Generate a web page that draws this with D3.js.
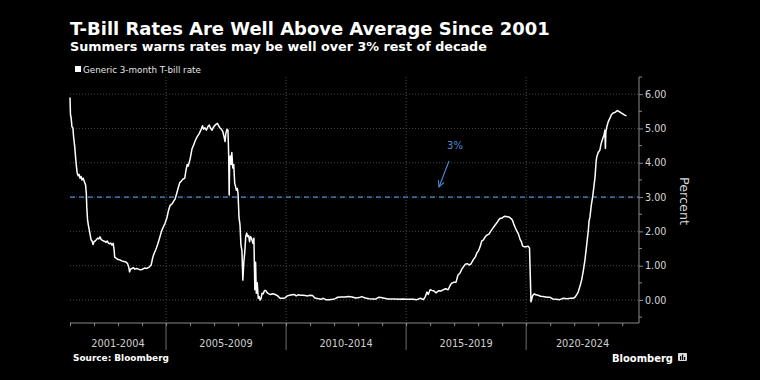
<!DOCTYPE html>
<html>
<head>
<meta charset="utf-8">
<script src="https://cdn.jsdelivr.net/npm/d3@7"></script>
<style>
  html, body { margin: 0; padding: 0; background: #000; }
  svg { display: block; }
</style>
</head>
<body>
<svg id="chart" width="760" height="380"></svg>
<script>
// ---- Data (decimal year, rate in percent) ----
const years = [
2001.00,2001.02,2001.05,2001.08,2001.12,2001.15,2001.20,2001.24,2001.27,2001.30,2001.34,2001.38,2001.42,2001.46,2001.50,2001.55,2001.60,2001.65,2001.68,2001.70,2001.73,2001.76,2001.80,2001.84,2001.88,2001.92,2001.96,
2002.00,2002.05,2002.10,2002.15,2002.20,2002.25,2002.30,2002.35,2002.40,2002.45,2002.50,2002.55,2002.60,2002.65,2002.70,2002.75,2002.80,2002.84,2002.86,2002.92,
2003.00,2003.08,2003.15,2003.25,2003.33,2003.40,2003.45,2003.48,2003.52,2003.58,2003.65,2003.70,2003.78,2003.85,2003.92,
2004.00,2004.10,2004.20,2004.30,2004.38,2004.45,2004.50,2004.58,2004.65,2004.72,2004.80,2004.88,2004.95,
2005.03,2005.10,2005.17,2005.25,2005.32,2005.38,2005.45,2005.52,2005.57,2005.62,2005.70,2005.78,2005.83,2005.88,2005.92,
2006.00,2006.08,2006.15,2006.22,2006.30,2006.38,2006.45,2006.52,2006.56,2006.62,2006.68,2006.74,2006.80,2006.86,2006.92,2006.96,
2007.02,2007.08,2007.14,2007.18,2007.24,2007.30,2007.36,2007.42,2007.46,2007.49,2007.54,2007.58,2007.61,2007.63,2007.65,2007.68,2007.71,2007.74,2007.78,2007.82,2007.86,2007.90,2007.93,2007.97,
2008.00,2008.04,2008.08,2008.12,2008.16,2008.20,2008.24,2008.28,2008.32,2008.36,2008.40,2008.44,2008.48,2008.52,2008.56,2008.62,2008.66,2008.70,2008.73,2008.76,2008.80,2008.84,2008.88,2008.92,2008.96,
2009.00,2009.05,2009.10,2009.15,2009.20,2009.28,2009.35,2009.45,2009.55,2009.65,2009.75,2009.85,2009.95,
2010.05,2010.15,2010.25,2010.35,2010.42,2010.50,2010.60,2010.70,2010.80,2010.90,
2011.00,2011.10,2011.20,2011.35,2011.45,2011.55,2011.65,2011.80,2011.95,
2012.05,2012.15,2012.30,2012.45,2012.60,2012.75,2012.90,
2013.05,2013.15,2013.30,2013.45,2013.60,2013.75,2013.85,2013.95,
2014.10,2014.25,2014.40,2014.55,2014.70,2014.85,
2015.00,2015.15,2015.30,2015.45,2015.60,2015.72,2015.80,2015.87,2015.92,
2016.00,2016.08,2016.15,2016.25,2016.35,2016.45,2016.55,2016.65,2016.75,2016.85,2016.92,
2017.00,2017.08,2017.16,2017.24,2017.32,2017.40,2017.46,2017.55,2017.62,2017.70,2017.80,2017.88,2017.95,
2018.02,2018.08,2018.15,2018.22,2018.30,2018.38,2018.45,2018.52,2018.60,2018.70,2018.78,2018.85,2018.92,2018.98,
2019.05,2019.12,2019.20,2019.28,2019.36,2019.42,2019.48,2019.55,2019.62,2019.68,2019.75,2019.80,2019.85,2019.92,
2020.00,2020.08,2020.14,2020.18,2020.20,2020.24,2020.28,2020.34,2020.40,2020.50,2020.60,2020.70,2020.80,2020.90,
2021.00,2021.10,2021.25,2021.40,2021.55,2021.70,2021.85,2021.95,
2022.03,2022.10,2022.17,2022.24,2022.31,2022.38,2022.45,2022.52,2022.59,2022.62,2022.66,2022.71,2022.77,2022.82,2022.87,2022.91,2022.94,
2023.00,2023.07,2023.12,2023.19,2023.24,2023.28,2023.30,2023.32,2023.36,2023.42,2023.49,2023.55,2023.62,2023.70,2023.80,2023.90,2023.97,
2024.04,2024.10,2024.18
];
const rates = [
5.90,5.40,5.30,5.05,5.02,4.75,4.45,4.10,3.88,3.70,3.62,3.66,3.55,3.60,3.50,3.55,3.45,3.35,3.10,2.70,2.35,2.20,2.05,1.90,1.75,1.72,1.62,
1.70,1.72,1.76,1.80,1.78,1.84,1.76,1.74,1.72,1.71,1.68,1.72,1.66,1.64,1.66,1.60,1.65,1.45,1.25,1.22,
1.18,1.17,1.14,1.12,1.11,1.06,0.95,0.82,0.90,0.92,0.94,0.90,0.92,0.90,0.88,
0.89,0.93,0.92,0.96,1.02,1.25,1.35,1.48,1.62,1.78,1.98,2.12,2.22,
2.38,2.60,2.76,2.80,2.88,2.95,3.12,3.30,3.42,3.45,3.52,3.55,3.78,3.95,3.90,
4.10,4.40,4.52,4.65,4.76,4.85,4.95,5.08,4.98,5.02,4.95,5.05,5.10,5.00,4.95,5.02,
5.08,5.12,5.15,5.10,5.02,4.98,4.92,4.75,4.62,4.85,4.98,4.95,4.20,3.06,4.05,4.20,3.95,4.30,3.85,3.95,3.40,3.30,3.20,3.25,
3.10,2.40,2.20,1.60,1.45,0.58,1.10,1.40,1.85,1.95,1.85,1.88,1.70,1.85,1.80,1.65,1.80,0.30,1.10,0.20,0.50,0.05,0.10,0.00,0.05,
0.20,0.18,0.28,0.28,0.22,0.18,0.16,0.18,0.16,0.12,0.05,0.05,0.06,
0.12,0.14,0.15,0.16,0.12,0.15,0.14,0.14,0.13,0.12,
0.14,0.13,0.06,0.04,0.02,0.05,0.01,0.01,0.02,
0.04,0.08,0.09,0.09,0.10,0.09,0.06,
0.07,0.10,0.06,0.04,0.03,0.03,0.08,0.07,
0.05,0.03,0.03,0.03,0.02,0.03,
0.02,0.02,0.02,0.01,0.05,0.01,0.10,0.23,0.16,
0.30,0.28,0.27,0.21,0.27,0.26,0.30,0.33,0.30,0.45,0.50,
0.52,0.52,0.73,0.78,0.90,0.98,1.04,1.06,1.02,1.05,1.18,1.25,1.38,
1.44,1.55,1.72,1.75,1.85,1.90,1.92,2.00,2.08,2.18,2.25,2.33,2.38,2.38,
2.42,2.44,2.43,2.42,2.38,2.34,2.22,2.10,2.00,1.92,1.76,1.70,1.58,1.55,
1.55,1.57,1.52,0.50,-0.05,0.05,0.14,0.18,0.15,0.14,0.11,0.10,0.09,0.08,
0.08,0.03,0.02,0.01,0.05,0.04,0.05,0.05,
0.08,0.15,0.24,0.40,0.58,0.85,1.17,1.60,2.04,2.30,2.43,2.75,3.01,3.30,3.59,4.00,4.17,
4.30,4.37,4.55,4.71,4.80,4.95,4.42,4.90,5.05,5.20,5.30,5.40,5.45,5.47,5.52,5.48,5.45,
5.42,5.39,5.37
];
const periodLabels = ["2001-2004","2005-2009","2010-2014","2015-2019","2020-2024"];
const periodStarts = [2001, 2005, 2010, 2015, 2020];
const yTicks = [0, 1, 2, 3, 4, 5, 6];
const refLevel = 3;
const refLabel = "3%";
const titleText = "T-Bill Rates Are Well Above Average Since 2001";
const subtitleText = "Summers warns rates may be well over 3% rest of decade";
const legendText = "Generic 3-month T-bill rate";
const sourceText = "Source: Bloomberg";

// ---- Layout ----
const svg = d3.select("#chart");
const W = 760, H = 380;
const pLeft = 70, pRight = 639, pTop = 77, pBottom = 323;
const xDomain = [2001, 2024.7];
const x = d3.scaleLinear().domain(xDomain).range([pLeft, pRight]);
const y = d3.scaleLinear().domain([-0.67, 6.5]).range([pBottom, pTop]);
const font = "'DejaVu Sans', Verdana, sans-serif";
const gridCol = "#5a5a5a";
const axisCol = "#8a8a8a";
const blue = "#4d8ad6";

// scale a text's font-size so it spans the given width
function fitWidth(sel, target) {
  const len = sel.node().getComputedTextLength();
  const fs = parseFloat(sel.attr("font-size"));
  if (len > 0) sel.attr("font-size", (fs * target / len).toFixed(2));
  return sel;
}

svg.append("rect").attr("width", W).attr("height", H).attr("fill", "#000");

// Title & subtitle
fitWidth(svg.append("text").attr("x", 70).attr("y", 35).text(titleText)
  .attr("fill", "#fff").attr("font-family", font).attr("font-weight", 700).attr("font-size", 17), 480);
fitWidth(svg.append("text").attr("x", 70).attr("y", 51).text(subtitleText)
  .attr("fill", "#fff").attr("font-family", font).attr("font-weight", 700).attr("font-size", 13), 417);

// Legend
svg.append("rect").attr("x", 75).attr("y", 66).attr("width", 6).attr("height", 6).attr("fill", "#fff");
fitWidth(svg.append("text").attr("x", 83).attr("y", 72.5).text(legendText)
  .attr("fill", "#e6e6e6").attr("font-family", font).attr("font-size", 8.5), 118);

// Horizontal grid
svg.append("g").selectAll("line").data(yTicks).join("line")
  .attr("x1", pLeft).attr("x2", pRight)
  .attr("y1", d => y(d)).attr("y2", d => y(d))
  .attr("stroke", gridCol).attr("stroke-width", 0.8).attr("stroke-dasharray", "1,2");

// Vertical grid at period separators
svg.append("g").selectAll("line").data(periodStarts.slice(1)).join("line")
  .attr("x1", d => x(d)).attr("x2", d => x(d))
  .attr("y1", pTop).attr("y2", pBottom)
  .attr("stroke", gridCol).attr("stroke-width", 0.8).attr("stroke-dasharray", "1,2");

// Reference line at 3%
svg.append("line")
  .attr("x1", pLeft).attr("x2", pRight)
  .attr("y1", y(refLevel)).attr("y2", y(refLevel))
  .attr("stroke", blue).attr("stroke-width", 1.3).attr("stroke-dasharray", "5,4");

// Data line
const pts = years.map((t, i) => [t, rates[i]]);
const line = d3.line().x(d => x(d[0])).y(d => y(d[1]));
svg.append("path").datum(pts).attr("d", line)
  .attr("fill", "none").attr("stroke", "#fff").attr("stroke-width", 1.5)
  .attr("stroke-linejoin", "round");

// Bottom axis with yearly minor ticks
const yearTicks = d3.range(2001, 2025);
const xAxis = d3.axisBottom(x).tickValues(yearTicks).tickSize(3).tickFormat("");
const gx = svg.append("g").attr("transform", `translate(0,${pBottom})`).call(xAxis);
gx.select(".domain").attr("stroke", axisCol).attr("stroke-width", 1.2).attr("d", `M${pLeft},0H${pRight}`);
gx.selectAll(".tick line").attr("stroke", axisCol);

// Period separators below axis
svg.append("g").selectAll("line").data(periodStarts.slice(1)).join("line")
  .attr("x1", d => x(d)).attr("x2", d => x(d))
  .attr("y1", pBottom).attr("y2", 350)
  .attr("stroke", axisCol).attr("stroke-width", 0.8);

// Period labels
const bounds = periodStarts.map((s, i) => [Math.max(s, xDomain[0]), i < periodStarts.length - 1 ? periodStarts[i + 1] : xDomain[1]]);
svg.append("g").selectAll("text").data(periodLabels).join("text")
  .attr("x", (d, i) => (x(bounds[i][0]) + x(bounds[i][1])) / 2)
  .attr("y", 347).attr("text-anchor", "middle").text(d => d)
  .attr("fill", "#d0d0d0").attr("font-family", font).attr("font-size", 9.8);

// Right axis
const yAxis = d3.axisRight(y).tickValues(yTicks).tickSize(4).tickFormat(d3.format(".2f"));
const gy = svg.append("g").attr("transform", `translate(${pRight},0)`).call(yAxis);
gy.select(".domain").attr("stroke", axisCol).attr("stroke-width", 1).attr("d", `M0,${pTop}V${pBottom}`);
gy.selectAll(".tick line").attr("stroke", axisCol);
gy.selectAll(".tick text").attr("fill", "#d8d8d8").attr("font-family", font).attr("font-size", 9.6).attr("x", 6);
const halfTicks = d3.range(-0.5, 6.6, 1);
svg.append("g").selectAll("line").data(halfTicks).join("line")
  .attr("x1", pRight).attr("x2", pRight + 3)
  .attr("y1", d => y(d)).attr("y2", d => y(d))
  .attr("stroke", axisCol);

fitWidth(svg.append("text").attr("transform", `translate(680,201) rotate(90)`)
  .attr("text-anchor", "middle").text("Percent")
  .attr("fill", "#d8d8d8").attr("font-family", font).attr("font-size", 12), 48);

// Annotation
svg.append("defs").append("marker").attr("id", "arr")
  .attr("viewBox", "0 0 10 10").attr("refX", 9).attr("refY", 5)
  .attr("markerWidth", 7).attr("markerHeight", 7).attr("orient", "auto")
  .append("path").attr("d", "M1,1L9,5L1,9").attr("fill", "none").attr("stroke", blue).attr("stroke-width", 1.4);
svg.append("text").attr("x", 455).attr("y", 149).attr("text-anchor", "middle").text(refLabel)
  .attr("fill", blue).attr("font-family", font).attr("font-size", 10);
svg.append("line").attr("x1", 449).attr("y1", 161).attr("x2", 439).attr("y2", 187)
  .attr("stroke", blue).attr("stroke-width", 1.1).attr("marker-end", "url(#arr)");

// Source and logo
fitWidth(svg.append("text").attr("x", 73).attr("y", 361).text(sourceText)
  .attr("fill", "#fff").attr("font-family", font).attr("font-weight", 700).attr("font-size", 8.5), 96);
fitWidth(svg.append("text").attr("x", 612).attr("y", 361.5).text("Bloomberg")
  .attr("fill", "#fff").attr("font-family", font).attr("font-weight", 600).attr("font-size", 11.5), 61);
const logo = svg.append("g").attr("transform", "translate(678,353)");
logo.append("rect").attr("width", 9).attr("height", 8).attr("rx", 1).attr("fill", "#ddd");
logo.append("rect").attr("x", 2).attr("y", 3).attr("width", 1.2).attr("height", 4).attr("fill", "#000");
logo.append("rect").attr("x", 4).attr("y", 1.5).attr("width", 1.2).attr("height", 5.5).attr("fill", "#000");
logo.append("rect").attr("x", 6).attr("y", 4).attr("width", 1.2).attr("height", 3).attr("fill", "#000");
</script>
</body>
</html>
